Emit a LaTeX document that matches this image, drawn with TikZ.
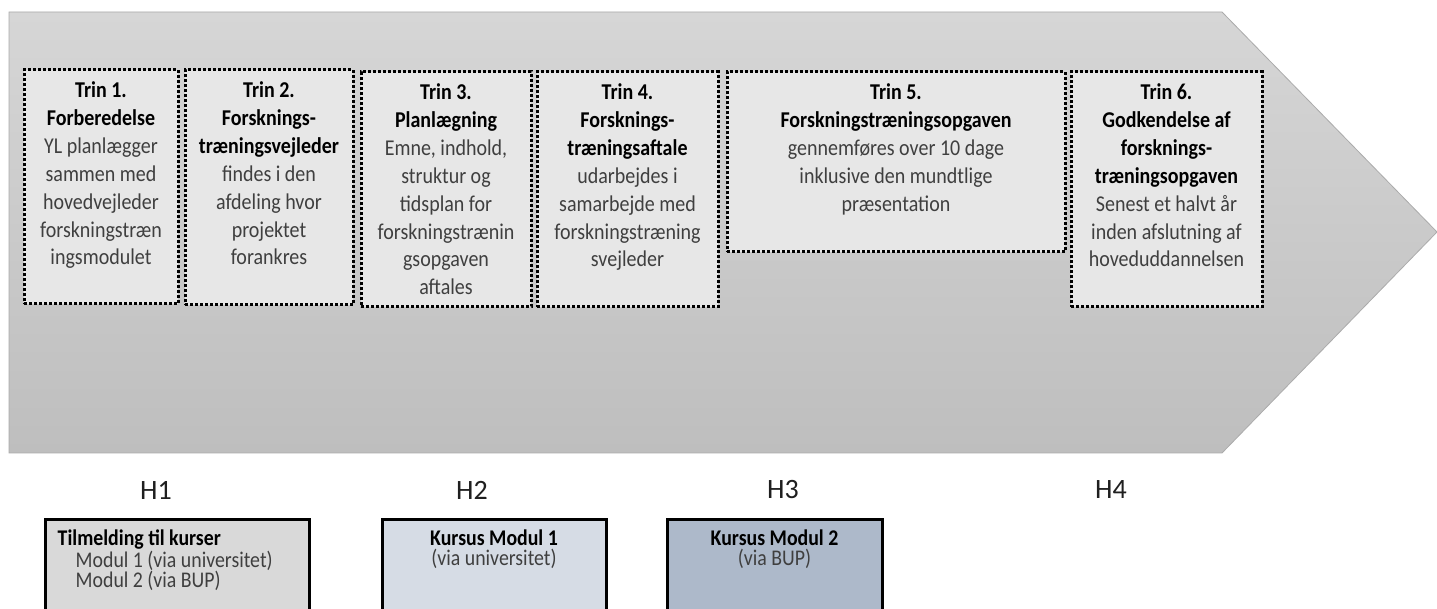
\documentclass[tikz,border=0pt]{standalone}
\usepackage{fontspec}
\setmainfont{Carlito}[FakeStretch=0.885]
\newfontfamily\hfont{Carlito}
\definecolor{arrowtop}{HTML}{D6D6D6}
\definecolor{arrowbot}{HTML}{BEBEBE}
\definecolor{arrowline}{HTML}{ABABAB}
\definecolor{boxfill}{HTML}{E7E7E7}
\definecolor{bodytext}{HTML}{3F3F3F}
\definecolor{greybox}{HTML}{D9D9D9}
\definecolor{lightblue}{HTML}{D6DCE5}
\definecolor{midblue}{HTML}{ADB9CA}
\newcommand\stepHead[1]{\textbf{\color{black}#1}}
\tikzset{
  stepbox/.style={draw=black, fill=boxfill, line width=3pt, dash pattern=on 2.8pt off 2.2pt, inner sep=0pt},
  steptext/.style={anchor=north, align=center, inner sep=0pt, font=\fontsize{22.6}{27.9}\selectfont, text=bodytext},
  hlabel/.style={inner sep=0pt, font=\hfont\fontsize{28}{30}\selectfont, text=black!88},
  coursebox/.style={draw=black, line width=3pt, inner sep=0pt},
  coursetext/.style={inner sep=0pt, font=\fontsize{22.4}{20}\selectfont, text=bodytext}
}
\begin{document}
\begin{tikzpicture}[x=1pt,y=1pt]
\clip (0,0) rectangle (1437,608);
\fill[white] (0,0) rectangle (1437,608);
% big arrow
\shade[top color=arrowtop, bottom color=arrowbot, draw=arrowline, line width=0.8pt]
  (9,596) -- (1222,596) -- (1437,376) -- (1222,155) -- (9,155) -- cycle;
% step boxes
\node[stepbox, minimum width=154pt, minimum height=234pt] (b1) at (101,421) {};
\node[stepbox, minimum width=168pt, minimum height=235pt] (b2) at (269,420.5) {};
\node[stepbox, minimum width=170pt, minimum height=235pt] (b3) at (446,418.5) {};
\node[stepbox, minimum width=181pt, minimum height=235pt] (b4) at (627.5,418.5) {};
\node[stepbox, minimum width=338pt, minimum height=180pt] (b5) at (896,446) {};
\node[stepbox, minimum width=191pt, minimum height=235pt] (b6) at (1166.5,418.5) {};
\node[steptext] (t1) at ([yshift=-13pt]b1.north) {\stepHead{Trin 1.}\\\stepHead{Forberedelse}\\YL planlægger\\sammen med\\hovedvejleder\\forskningstræn\\ingsmodulet};
\node[steptext] (t2) at ([yshift=-13pt]b2.north) {\stepHead{Trin 2.}\\\stepHead{Forsknings-}\\\stepHead{træningsvejleder}\\findes i den\\afdeling hvor\\projektet\\forankres};
\node[steptext] (t3) at ([yshift=-13pt]b3.north) {\stepHead{Trin 3.}\\\stepHead{Planlægning}\\Emne, indhold,\\struktur og\\tidsplan for\\forskningstrænin\\gsopgaven\\aftales};
\node[steptext] (t4) at ([yshift=-13pt]b4.north) {\stepHead{Trin 4.}\\\stepHead{Forsknings-}\\\stepHead{træningsaftale}\\udarbejdes i\\samarbejde med\\forskningstræning\\svejleder};
\node[steptext] (t5) at ([yshift=-13pt]b5.north) {\stepHead{Trin 5.}\\\stepHead{Forskningstræningsopgaven}\\gennemføres over 10 dage\\inklusive den mundtlige\\præsentation};
\node[steptext] (t6) at ([yshift=-13pt]b6.north) {\stepHead{Trin 6.}\\\stepHead{Godkendelse af}\\\stepHead{forsknings-}\\\stepHead{træningsopgaven}\\Senest et halvt år\\inden afslutning af\\hoveduddannelsen};
% half-year labels
\node[hlabel] (h1) at (156,118) {H1};
\node[hlabel] (h2) at (472,118) {H2};
\node[hlabel] (h3) at (783,118) {H3};
\node[hlabel] (h4) at (1111,118) {H4};
% course boxes
\node[coursebox, fill=greybox, minimum width=264pt, minimum height=109pt] (c1) at (177,34.5) {};
\node[coursebox, fill=lightblue, minimum width=224pt, minimum height=109pt] (c2) at (494,34.5) {};
\node[coursebox, fill=midblue, minimum width=215pt, minimum height=109pt] (c3) at (774.5,34.5) {};
\node[coursetext, anchor=north west, align=left] (ct1) at ([xshift=14pt,yshift=-12.5pt]c1.north west)
  {\stepHead{Tilmelding til kurser}\\\hspace*{18pt}Modul 1 (via universitet)\\\hspace*{18pt}Modul 2 (via BUP)};
\node[coursetext, anchor=north, align=center] (ct2) at ([yshift=-12.5pt]c2.north)
  {\stepHead{Kursus Modul 1}\\(via universitet)};
\node[coursetext, anchor=north, align=center] (ct3) at ([yshift=-12.5pt]c3.north)
  {\stepHead{Kursus Modul 2}\\(via BUP)};
\end{tikzpicture}
\end{document}
